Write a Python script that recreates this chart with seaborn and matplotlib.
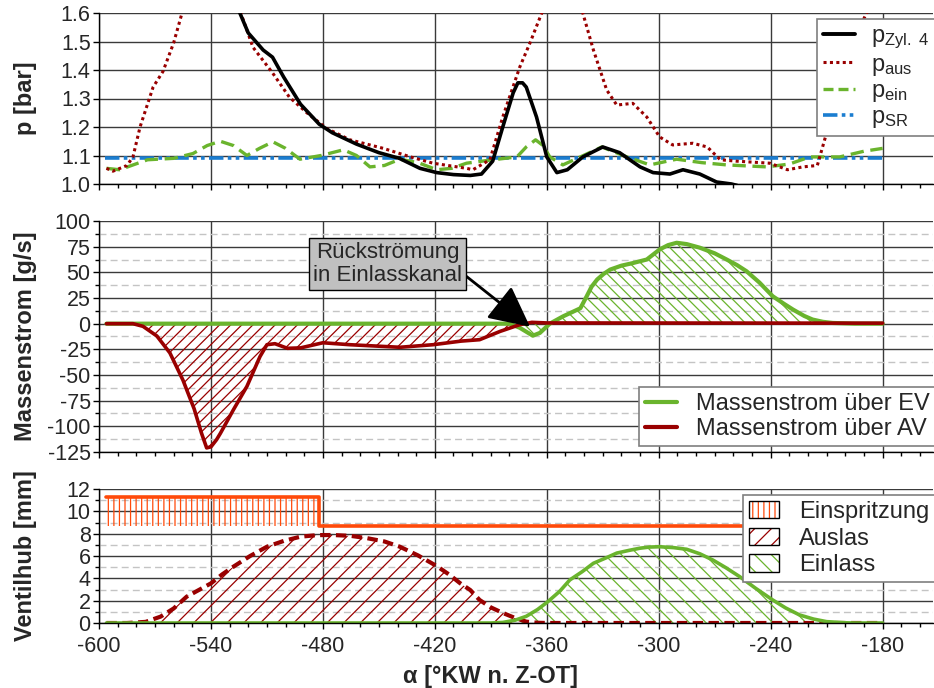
import numpy as np
import pandas as pd
import matplotlib
matplotlib.use("Agg")
import matplotlib.pyplot as plt
from matplotlib.ticker import FixedLocator, MultipleLocator, FormatStrFormatter
from matplotlib.lines import Line2D
from matplotlib.patches import Rectangle
from matplotlib.legend_handler import HandlerTuple
import seaborn as sns

# ---------------- Druckverläufe [bar] ----------------
zyl_x = [-596, -560, -540, -530, -524.5, -520, -512, -507, -501, -492, -482, -475,
         -462, -450, -439, -428, -419, -410, -401, -395, -389, -383.6, -378, -375.5,
         -373, -371, -365.5, -360, -354.6, -349, -340.7, -330, -321, -310, -303,
         -294, -287, -278, -269, -261, -258]
zyl_p = [3.2, 2.3, 1.95, 1.72, 1.6, 1.53, 1.47, 1.445, 1.375, 1.28, 1.21, 1.18,
         1.14, 1.11, 1.09, 1.055, 1.04, 1.033, 1.03, 1.035, 1.08, 1.2, 1.32, 1.355,
         1.355, 1.34, 1.235, 1.095, 1.04, 1.05, 1.095, 1.13, 1.11, 1.06, 1.04,
         1.035, 1.05, 1.035, 1.007, 1.0, 0.995]

aus_x = [-596, -592.5, -585, -581.8, -578, -571, -565.7, -560, -555.5, -548, -540,
         -532, -524, -517.5, -507, -498, -488.6, -478, -465.5, -447.6, -433, -421,
         -403, -399.6, -390.5, -383.6, -374.5, -369, -362.7, -355, -348, -340.7,
         -335, -327.9, -322.5, -313.9, -306.4, -299.5, -292.5, -281.8, -274, -267,
         -258, -240.5, -231, -222.8, -215, -210, -203, -188.6, -180]
aus_p = [1.055, 1.045, 1.065, 1.095, 1.2, 1.34, 1.395, 1.495, 1.6, 1.85, 1.95,
         1.85, 1.6, 1.48, 1.39, 1.305, 1.25, 1.195, 1.155, 1.125, 1.095, 1.073,
         1.055, 1.05, 1.085, 1.235, 1.41, 1.495, 1.6, 1.8, 1.8, 1.6,
         1.47, 1.33, 1.277, 1.283, 1.235, 1.165, 1.137, 1.143, 1.13, 1.085,
         1.08, 1.073, 1.05, 1.06, 1.065, 1.18, 1.4, 1.6, 1.72]

ein_x = [-596, -589, -574, -560, -549.6, -542, -535, -528, -520.7, -514, -506.8,
         -500, -492.3, -481, -469, -462, -454.8, -447, -438.75, -429, -419, -411,
         -403, -389, -376, -371, -366, -362, -358.4, -351.4, -342, -330.5, -317,
         -304.8, -290.4, -277, -263.6, -242, -230, -219, -203, -190, -180]
ein_p = [1.055, 1.05, 1.085, 1.09, 1.107, 1.135, 1.15, 1.135, 1.1, 1.125, 1.148,
         1.125, 1.087, 1.1, 1.12, 1.1, 1.06, 1.065, 1.087, 1.075, 1.05, 1.055,
         1.073, 1.085, 1.095, 1.13, 1.155, 1.135, 1.095, 1.067, 1.095, 1.13, 1.095,
         1.067, 1.087, 1.075, 1.067, 1.06, 1.07, 1.095, 1.095, 1.115, 1.125]

sr_x = [-597, -180]
sr_p = [1.09, 1.09]

# ---------------- Massenstrom [g/s] ----------------
ev_x = [-596, -380, -374.5, -367.5, -363.7, -358.4, -351.4, -342, -338.6, -336,
        -333, -329.5, -326, -320, -313.9, -306.4, -299.5, -295, -290.4, -285,
        -278, -270, -263.6, -258, -252.9, -246, -238.9, -233, -228, -222,
        -217.5, -212, -206.8, -195, -180]
ev_m = [0, 0, -4, -11.7, -9, 0, 7, 15, 26.7, 36,
        43, 48.5, 52.7, 56.5, 59, 62.5, 72.3, 76.5, 78.8, 77.5,
        74, 68.5, 62.5, 57, 51, 40, 26.7, 19.5, 13.7, 7.5,
        4, 1.8, 0.7, 0, 0]

av_x = [-596, -581.8, -576.4, -569, -562, -555, -549, -545, -542.3, -540, -537,
        -535, -528, -520.7, -513.7, -510, -505.7, -499, -492, -480, -465.5,
        -438.75, -421, -406, -396, -385, -374.5, -368, -360, -180]
av_m = [0, 0, -2.6, -12, -28.5, -55, -83, -107, -121, -120, -113,
        -107, -84, -61, -32, -20.5, -19.5, -24, -23.6, -18.6, -20.5,
        -23, -20.5, -17, -15.6, -7.5, -1, 1.3, 0.7, 0.5]

# ---------------- Ventilhub [mm] ----------------
inj_x = [-596, -482, -482, -180]
inj_top = [11.3, 11.3, 8.7, 8.7]
inj_base = 8.7

ausl_x = [-596, -585, -575, -567, -560, -553, -546, -540, -534, -528, -519,
          -510, -501, -492, -483, -474.6, -465, -456.4, -447, -438.75, -429,
          -419, -412, -406.6, -401, -396, -390, -383.6, -377, -371, -365, -360,
          -180]
ausl_h = [0, 0, 0.1, 0.57, 1.3, 2.36, 3.0, 3.55, 4.35, 5.04, 6.0,
          6.83, 7.35, 7.73, 7.87, 7.88, 7.8, 7.6, 7.3, 6.83, 6.05,
          5.1, 4.3, 3.58, 2.95, 2.06, 1.4, 0.9, 0.45, 0.12, 0.02, 0,
          0]

einl_x = [-596, -390, -383.6, -377, -371, -365, -359.5, -353, -347.7, -341,
          -335, -328, -322.5, -316, -310, -305, -299.5, -292, -285, -278,
          -271, -264, -256.6, -248, -238.9, -232, -224.5, -217, -210, -200,
          -195, -180]
einl_h = [0, 0, 0.05, 0.25, 0.6, 1.2, 1.9, 2.85, 3.85, 4.6,
          5.35, 5.85, 6.26, 6.5, 6.7, 6.8, 6.83, 6.75, 6.6, 6.2,
          5.64, 4.95, 4.15, 3.1, 2.06, 1.35, 0.72, 0.35, 0.12, 0.02,
          0, 0]

# ---------------- Stil ----------------
sns.set_theme(style="ticks")
plt.rcParams["font.family"] = ["Liberation Sans", "DejaVu Sans"]
plt.rcParams["mathtext.fontset"] = "custom"
plt.rcParams["mathtext.rm"] = "Liberation Sans"
plt.rcParams["axes.unicode_minus"] = False
plt.rcParams["hatch.linewidth"] = 0.9

C_BLACK = "#000000"
C_RED = "#990000"
C_GREEN = "#6ab42d"
C_BLUE = "#1b7dd0"
C_ORANGE = "#ff4a0a"

TICK_FS = 15.5
LABEL_FS = 17
LEG_FS = 17

fig = plt.figure(figsize=(9.34, 6.88), dpi=100)
W, H = 934, 688
left, right = 99, 933
ax1 = fig.add_axes([left / W, 1 - 184 / H, (right - left) / W, 171 / H])
ax2 = fig.add_axes([left / W, 1 - 452 / H, (right - left) / W, 231 / H], sharex=ax1)
ax3 = fig.add_axes([left / W, 1 - 623 / H, (right - left) / W, 134 / H], sharex=ax1)


def style_axis(ax, minor_y=None):
    ax.set_xlim(-600, -153)
    ax.xaxis.set_major_locator(FixedLocator(np.arange(-600, -179, 60)))
    ax.xaxis.set_minor_locator(FixedLocator(np.arange(-600, -150, 10)))
    ax.grid(True, which="major", color="#3a3a3a", lw=1.0)
    if minor_y is not None:
        ax.yaxis.set_minor_locator(FixedLocator(minor_y))
        ax.grid(True, which="minor", axis="y", color="#c4c4c4", lw=1.0,
                linestyle=(0, (5, 3)))
    ax.tick_params(which="major", direction="out", length=4, width=1,
                   color="black", labelsize=TICK_FS, pad=2)
    ax.tick_params(which="minor", direction="out", length=3, width=1,
                   color="black")
    ax.tick_params(axis="x", which="major", pad=5)
    for s in ["top", "right"]:
        ax.spines[s].set_visible(False)
    for s in ["left", "bottom"]:
        ax.spines[s].set_color("black")
        ax.spines[s].set_linewidth(1.0)
    ax.set_axisbelow(True)


# ---------------- Oben: Drücke ----------------
df_zyl = pd.DataFrame({"alpha": zyl_x, "p": zyl_p})
df_aus = pd.DataFrame({"alpha": aus_x, "p": aus_p})
df_ein = pd.DataFrame({"alpha": ein_x, "p": ein_p})
df_sr = pd.DataFrame({"alpha": sr_x, "p": sr_p})

ls_sr = (0, (4, 1.2, 1, 1.2, 1, 1.2))
sns.lineplot(data=df_sr, x="alpha", y="p", ax=ax1, color=C_BLUE, lw=2.6,
             linestyle=ls_sr, estimator=None, sort=False)
sns.lineplot(data=df_ein, x="alpha", y="p", ax=ax1, color=C_GREEN, lw=2.4,
             linestyle=(0, (4, 2)), estimator=None, sort=False)
sns.lineplot(data=df_aus, x="alpha", y="p", ax=ax1, color=C_RED, lw=2.2,
             linestyle=(0, (1, 1.1)), estimator=None, sort=False)
sns.lineplot(data=df_zyl, x="alpha", y="p", ax=ax1, color=C_BLACK, lw=2.6,
             estimator=None, sort=False)

style_axis(ax1)
ax1.set_ylim(1.0, 1.6)
ax1.yaxis.set_major_locator(MultipleLocator(0.1))
ax1.yaxis.set_major_formatter(FormatStrFormatter("%.1f"))
ax1.tick_params(labelbottom=False)
ax1.set_xlabel("")
ax1.set_ylabel("p [bar]", fontsize=LABEL_FS, fontweight="bold")
ax1.yaxis.set_label_coords(-0.074, 0.5)

h_top = [
    Line2D([], [], color=C_BLACK, lw=2.8),
    Line2D([], [], color=C_RED, lw=2.2, linestyle=(0, (1, 1.1))),
    Line2D([], [], color=C_GREEN, lw=2.4, linestyle=(0, (3, 1.5))),
    Line2D([], [], color=C_BLUE, lw=2.6, linestyle=ls_sr),
]
l_top = [r"$\mathregular{p_{Zyl.\;4}}$", r"$\mathregular{p_{aus}}$",
         r"$\mathregular{p_{ein}}$", r"$\mathregular{p_{SR}}$"]
leg1 = ax1.legend(h_top, l_top, loc="upper right", bbox_to_anchor=(1.003, 0.962),
                  fontsize=LEG_FS, frameon=True, fancybox=False, framealpha=1,
                  edgecolor="#7f7f7f", borderpad=0.25, labelspacing=0.1,
                  handlelength=1.35, handletextpad=0.7, borderaxespad=0)
leg1.get_frame().set_linewidth(1.2)

# ---------------- Mitte: Massenstrom ----------------
df_ev = pd.DataFrame({"alpha": ev_x, "m": ev_m})
df_av = pd.DataFrame({"alpha": av_x, "m": av_m})

ax2.fill_between(ev_x, ev_m, 0, facecolor="none", edgecolor=C_GREEN,
                 hatch="\\\\\\", lw=0)
ax2.fill_between(av_x, av_m, 0, facecolor="none", edgecolor=C_RED,
                 hatch="///", lw=0)
sns.lineplot(data=df_ev, x="alpha", y="m", ax=ax2, color=C_GREEN, lw=3.0,
             estimator=None, sort=False)
sns.lineplot(data=df_av, x="alpha", y="m", ax=ax2, color=C_RED, lw=2.6,
             estimator=None, sort=False)

style_axis(ax2, minor_y=np.arange(-112.5, 100, 25))
ax2.set_ylim(-125, 100)
ax2.yaxis.set_major_locator(MultipleLocator(25))
ax2.tick_params(labelbottom=False)
ax2.set_xlabel("")
ax2.set_ylabel("Massenstrom [g/s]", fontsize=LABEL_FS, fontweight="bold")
ax2.yaxis.set_label_coords(-0.074, 0.5)

ax2.annotate("Rückströmung\nin Einlasskanal", xy=(-369, -3), xytext=(-445.4, 58),
             ha="center", va="center", fontsize=16, linespacing=1.1,
             bbox=dict(boxstyle="square,pad=0.18", fc="#c0c0c0", ec="black", lw=1),
             arrowprops=dict(arrowstyle="-|>,head_length=0.9,head_width=0.45",
                             color="black", lw=2, relpos=(1.0, 0.3),
                             shrinkA=0, shrinkB=0, mutation_scale=28))

h_mid = [Line2D([], [], color=C_GREEN, lw=3.0), Line2D([], [], color=C_RED, lw=3.0)]
leg2 = ax2.legend(h_mid, ["Massenstrom über EV", "Massenstrom über AV"],
                  loc="lower right", bbox_to_anchor=(1.003, 0.026),
                  fontsize=LEG_FS, frameon=True, fancybox=False, framealpha=1,
                  edgecolor="#7f7f7f", borderpad=0.25, labelspacing=0.12,
                  handlelength=1.35, handletextpad=0.8, borderaxespad=0)
leg2.get_frame().set_linewidth(1.2)

# ---------------- Unten: Ventilhub ----------------
df_inj = pd.DataFrame({"alpha": inj_x, "h": inj_top})
df_ausl = pd.DataFrame({"alpha": ausl_x, "h": ausl_h})
df_einl = pd.DataFrame({"alpha": einl_x, "h": einl_h})

ax3.fill_between(inj_x, inj_base, inj_top, facecolor="none", edgecolor=C_ORANGE,
                 hatch="|||", lw=0)
ax3.fill_between(ausl_x, ausl_h, 0, facecolor="none", edgecolor=C_RED,
                 hatch="//", lw=0)
ax3.fill_between(einl_x, einl_h, 0, facecolor="none", edgecolor=C_GREEN,
                 hatch="\\\\", lw=0)
sns.lineplot(data=df_inj, x="alpha", y="h", ax=ax3, color=C_ORANGE, lw=2.6,
             estimator=None, sort=False)
sns.lineplot(data=df_ausl, x="alpha", y="h", ax=ax3, color=C_RED, lw=3.0,
             linestyle=(0, (2.5, 1.3)), estimator=None, sort=False)
sns.lineplot(data=df_einl, x="alpha", y="h", ax=ax3, color=C_GREEN, lw=2.6,
             estimator=None, sort=False)

style_axis(ax3, minor_y=np.arange(1, 12, 2))
ax3.set_ylim(0, 12)
ax3.yaxis.set_major_locator(MultipleLocator(2))
ax3.set_ylabel("Ventilhub [mm]", fontsize=LABEL_FS, fontweight="bold")
ax3.yaxis.set_label_coords(-0.074, 0.5)
ax3.set_xlabel("α [°KW n. Z-OT]", fontsize=LABEL_FS, fontweight="bold")
ax3.xaxis.set_label_coords(0.47, -0.31)


def hatch_handle(color, hatch):
    fill = Rectangle((0, 0), 1, 1, facecolor="white", edgecolor=color, hatch=hatch, lw=0)
    frame = Rectangle((0, 0), 1, 1, facecolor="none", edgecolor="black", lw=1)
    return (fill, frame)


h_bot = [hatch_handle(C_ORANGE, "|||"), hatch_handle(C_RED, "//"),
         hatch_handle(C_GREEN, "\\\\")]
leg3 = ax3.legend(h_bot, ["Einspritzung", "Auslas", "Einlass"],
                  handler_map={tuple: HandlerTuple(ndivide=1, pad=0)},
                  loc="upper right", bbox_to_anchor=(1.003, 0.955),
                  fontsize=LEG_FS, frameon=True, fancybox=False, framealpha=1,
                  edgecolor="#7f7f7f", borderpad=0.25, labelspacing=0.2,
                  handlelength=1.3, handleheight=0.75, handletextpad=0.85,
                  borderaxespad=0)
leg3.get_frame().set_linewidth(1.2)

fig.savefig("out.png", dpi=100)
